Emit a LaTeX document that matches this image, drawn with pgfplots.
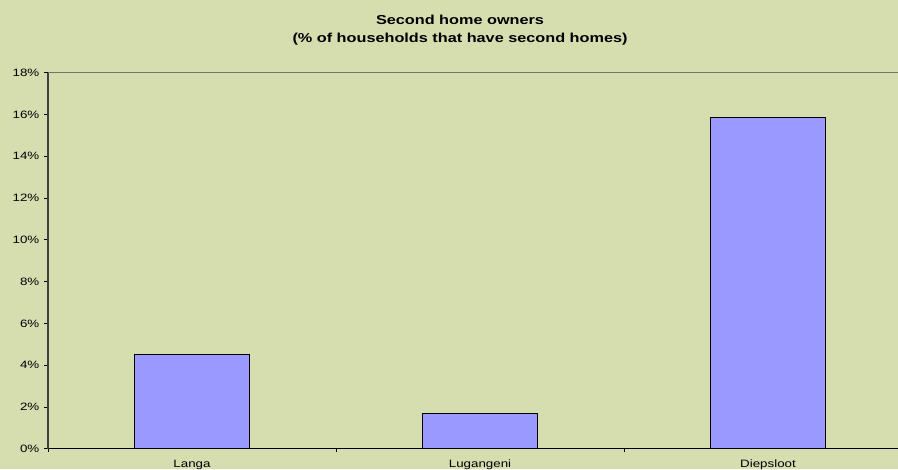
\documentclass[border=0pt]{standalone}
\usepackage{fontspec}
\setmainfont{Liberation Sans}
\usepackage{pgfplots}
\pgfplotsset{compat=1.18}
\definecolor{bgc}{RGB}{214,222,176}
\definecolor{barc}{RGB}{153,153,255}
\newcommand\sx[1]{\scalebox{1.25}[1]{#1}}
\begin{document}
\begin{tikzpicture}[x=1pt,y=1pt]
\useasboundingbox (0,0) rectangle (673.5,351.75);
\fill[bgc] (0,0) rectangle (673.5,351.75);
\clip (0,0) rectangle (673.5,351.75);
\node[font=\bfseries\fontsize{9.75}{13.5}\selectfont, align=center] at (345,329) {\sx{Second home owners}\\\sx{(\% of households that have second homes)}};
\begin{axis}[
  at={(144pt,15.2pt)}, anchor=origin,
  scale only axis, width=648pt, height=282pt,
  xmin=-0.5, xmax=2.5, ymin=0, ymax=18,
  axis x line*=bottom, axis y line*=left,
  axis line style={black, line width=0.8pt},
  x axis line style={-}, y axis line style={-, draw=black!75},
  ytick={0,2,...,18},
  yticklabel={\sx{\pgfmathprintnumber{\tick}\%}},
  /pgf/number format/assume math mode=true,
  tick label style={font=\fontsize{8}{9}\selectfont},
  ytick style={black, line width=0.6pt},
  tick align=outside, major tick length=3pt,
  xtick={0,1,2}, xticklabels={\sx{Langa},\sx{Lugangeni},\sx{Diepsloot}},
  x tick style={draw=none},
  xticklabel style={yshift=-2pt},
  extra x ticks={-0.5,0.5,1.5,2.5}, extra x tick labels={},
  extra x tick style={x tick style={draw=black, line width=0.6pt}, major tick length=2.5pt},
  extra y ticks={18}, extra y tick labels={},
  extra y tick style={grid=major, major grid style={draw=black!55, line width=0.7pt}},
  ybar, bar width=0.4,
  clip=false,
]
\addplot[fill=barc, draw=black, line width=0.7pt] coordinates {(0,4.52) (1,1.69) (2,15.87)};
\end{axis}
\end{tikzpicture}
\end{document}
